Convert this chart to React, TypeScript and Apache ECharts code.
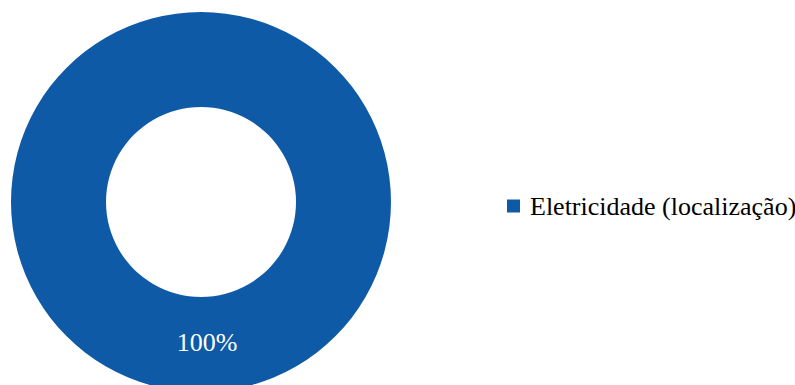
import React, { useEffect, useRef } from "react";
import * as echarts from "echarts";

const categories = ["Eletricidade (localização)"];
const values = [100];
const colors = ["#0E5AA6"];

export default function App() {
  const ref = useRef<HTMLDivElement>(null);
  useEffect(() => {
    document.body.style.margin = "0";
    const chart = echarts.init(ref.current!, null, { renderer: "svg" });
    chart.setOption({
      animation: false,
      backgroundColor: "#ffffff",
      color: colors,
      legend: {
        orient: "vertical",
        left: 502,
        top: 188,
        icon: "rect",
        itemWidth: 13,
        itemHeight: 13,
        itemGap: 6,
        textStyle: {
          fontFamily: "'Liberation Serif', 'Times New Roman', serif",
          fontSize: 26,
          color: "#000000",
          padding: [0, 0, 0, 5],
        },
        data: categories,
      },
      series: [
        {
          type: "pie",
          center: [201, 202],
          radius: [95, 190],
          startAngle: 90,
          silent: true,
          data: categories.map((c, i) => ({ name: c, value: values[i] })),
          label: {
            show: true,
            position: "inside",
            formatter: "{d}%",
            color: "#ffffff",
            fontFamily: "'Liberation Serif', 'Times New Roman', serif",
            fontSize: 26,
            offset: [6, -5],
          },
          labelLine: { show: false },
          itemStyle: { borderWidth: 0 },
        },
      ],
    });
    return () => chart.dispose();
  }, []);
  return <div ref={ref} style={{ width: 795, height: 385 }} />;
}
